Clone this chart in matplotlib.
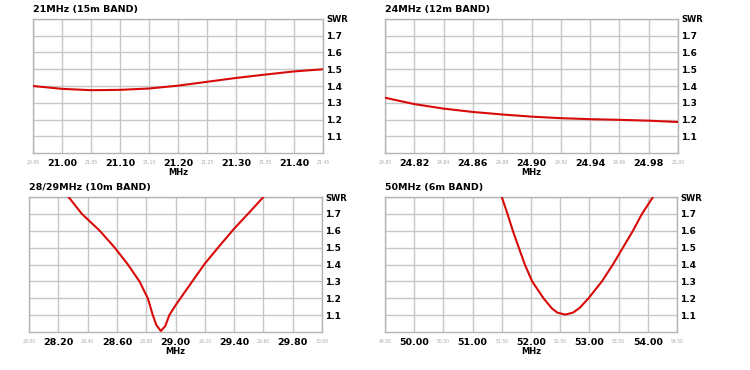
import matplotlib.pyplot as plt

# --- data ---
TITLES = ["21MHz (15m BAND)", "24MHz (12m BAND)", "28/29MHz (10m BAND)", "50MHz (6m BAND)"]

X_RANGES = [(20.95, 21.45), (24.80, 25.00), (28.00, 30.00), (49.50, 54.50)]
X_STEPS = [0.05, 0.02, 0.20, 0.50]

FREQ_15M = [20.95, 21.00, 21.05, 21.10, 21.15, 21.20, 21.25, 21.30, 21.35, 21.40, 21.45]
SWR_15M = [1.400, 1.383, 1.375, 1.377, 1.385, 1.402, 1.425, 1.448, 1.468, 1.487, 1.500]

FREQ_12M = [24.80, 24.82, 24.84, 24.86, 24.88, 24.90, 24.92, 24.94, 24.96, 24.98, 25.00]
SWR_12M = [1.330, 1.292, 1.265, 1.245, 1.230, 1.217, 1.208, 1.202, 1.198, 1.193, 1.185]

FREQ_10M = [28.27, 28.361, 28.483, 28.585, 28.675, 28.754, 28.811, 28.845, 28.87, 28.90,
            28.93, 28.958, 29.00, 29.10, 29.20, 29.30, 29.40, 29.50, 29.60]
SWR_10M = [1.800, 1.700, 1.600, 1.500, 1.400, 1.300, 1.200, 1.100, 1.040, 1.006,
           1.035, 1.100, 1.158, 1.282, 1.405, 1.510, 1.612, 1.705, 1.800]

FREQ_6M = [51.50, 51.597, 51.689, 51.791, 51.894, 52.02, 52.214, 52.357, 52.45, 52.586,
           52.72, 52.83, 52.986, 53.214, 53.403, 53.574, 53.746, 53.90, 54.089]
SWR_6M = [1.800, 1.700, 1.600, 1.500, 1.400, 1.300, 1.200, 1.140, 1.115, 1.103,
          1.115, 1.142, 1.200, 1.300, 1.400, 1.500, 1.600, 1.700, 1.800]

SERIES = [(FREQ_15M, SWR_15M), (FREQ_12M, SWR_12M), (FREQ_10M, SWR_10M), (FREQ_6M, SWR_6M)]

Y_TICKS = [1.1, 1.2, 1.3, 1.4, 1.5, 1.6, 1.7, 1.8]
Y_LABELS = ["1.1", "1.2", "1.3", "1.4", "1.5", "1.6", "1.7", "SWR"]

# axes boxes in figure pixels: left, right, top, bottom
BOXES = [(33, 323, 19, 153), (385, 678, 19, 153), (29, 322, 197, 332), (385, 677, 197, 332)]

FIG_W, FIG_H = 750, 370
GRID_COLOR = "#c6c6c6"
LINE_COLOR = "#d80a0a"
FONT = "DejaVu Sans"


def draw_panel(fig, box, title, x_range, x_step, freq, swr):
    left, right, top, bottom = box
    ax = fig.add_axes([left / FIG_W, 1 - bottom / FIG_H, (right - left) / FIG_W, (bottom - top) / FIG_H])
    ax.plot(freq, swr, color=LINE_COLOR, linewidth=1.5, solid_capstyle="round",
            solid_joinstyle="round", zorder=3)
    ax.set_xlim(*x_range)
    ax.set_ylim(1.0, 1.8)

    n_steps = int(round((x_range[1] - x_range[0]) / x_step))
    all_ticks = [x_range[0] + i * x_step for i in range(n_steps + 1)]
    major = all_ticks[1::2]
    minor = all_ticks[0::2]
    ax.set_xticks(major, labels=[f"{v:.2f}" for v in major], fontsize=6.8, fontweight="bold", family=FONT)
    ax.set_xticks(minor, labels=[f"{v:.2f}" for v in minor], minor=True, fontsize=3.3,
                  color="#a8a8a8", family=FONT)
    ax.tick_params(axis="x", which="major", length=0, pad=4)
    ax.tick_params(axis="x", which="minor", length=0, pad=5)

    ax.yaxis.tick_right()
    ax.set_yticks(Y_TICKS, labels=Y_LABELS, fontsize=6.5, fontweight="bold", family=FONT)
    ax.tick_params(axis="y", length=0, pad=2.5)
    ax.get_yticklabels()[-1].set_fontsize(6)

    ax.grid(True, which="both", color=GRID_COLOR, linewidth=1.0, zorder=0)
    for spine in ax.spines.values():
        spine.set_color("#b4b4b4")
        spine.set_linewidth(1.0)

    ax.set_xlabel("MHz", fontsize=6, fontweight="bold", family=FONT, labelpad=0.5)
    ax.set_title(title, loc="left", fontsize=6.8, fontweight="bold", family=FONT, pad=5.3)
    return ax


def main() -> None:
    fig = plt.figure(figsize=(FIG_W / 100, FIG_H / 100), dpi=100)
    for box, title, x_range, x_step, (freq, swr) in zip(BOXES, TITLES, X_RANGES, X_STEPS, SERIES):
        draw_panel(fig, box, title, x_range, x_step, freq, swr)
    fig.savefig("out.png", dpi=100)
    plt.close(fig)


if __name__ == "__main__":
    main()
